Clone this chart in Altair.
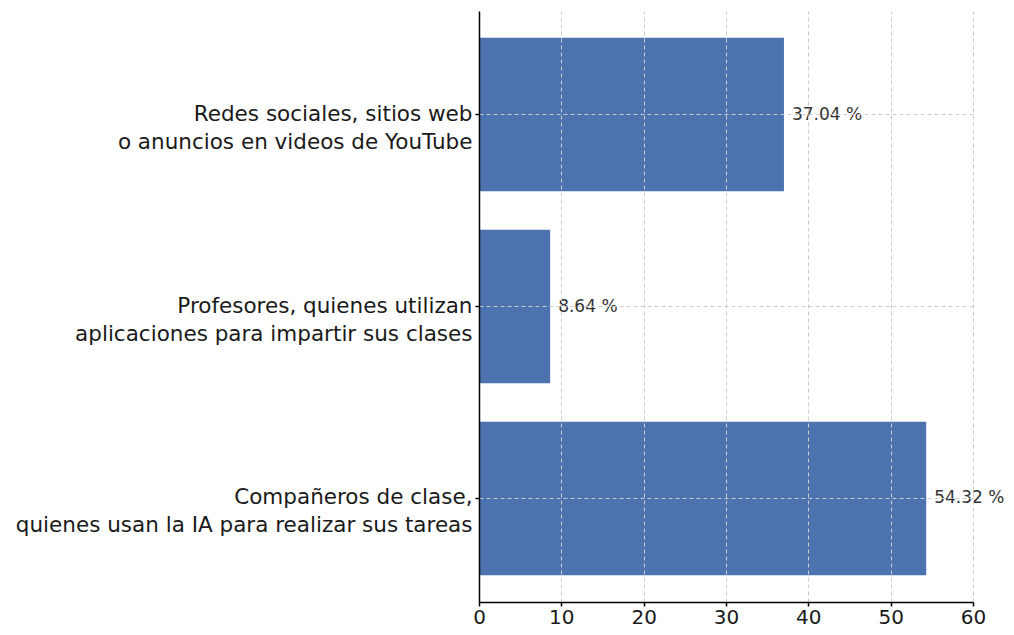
import altair as alt
import pandas as pd

categories = [
    "Redes sociales, sitios web|o anuncios en videos de YouTube",
    "Profesores, quienes utilizan|aplicaciones para impartir sus clases",
    "Compañeros de clase,|quienes usan la IA para realizar sus tareas",
]
values = [37.04, 8.64, 54.32]
labels = [f"{v:.2f} %" for v in values]

df = pd.DataFrame({"cat": categories, "value": values, "label": labels})

FONT = "DejaVu Sans"

y_enc = alt.Y(
    "cat:N",
    sort=categories,
    title=None,
    scale=alt.Scale(paddingInner=0.2, paddingOuter=0.14),
    axis=alt.Axis(
        bandPosition=0.5,
        grid=True,
        gridDash=[4, 3],
        gridColor="#cccccc",
        gridWidth=1,
        labelExpr="split(datum.label, '|')",
        labelFontSize=21.5,
        labelLineHeight=28,
        labelFont=FONT,
        labelColor="#1a1a1a",
        labelLimit=0,
        labelPadding=3,
        tickSize=4,
        tickColor="#000000",
        tickWidth=1.5,
        domainColor="#000000",
        domainWidth=1.5,
        zindex=1,
    ),
)

x_enc = alt.X(
    "value:Q",
    title=None,
    scale=alt.Scale(domain=[0, 60], nice=False),
    axis=alt.Axis(
        values=[0, 10, 20, 30, 40, 50, 60],
        grid=True,
        gridDash=[4, 3],
        gridColor="#cccccc",
        gridWidth=1,
        labelFontSize=20,
        labelFont=FONT,
        labelColor="#1a1a1a",
        labelPadding=1,
        labelFlush=False,
        tickSize=4,
        tickColor="#000000",
        tickWidth=1.5,
        domainColor="#000000",
        domainWidth=1.5,
        zindex=1,
    ),
)

bars = alt.Chart(df).mark_bar(color="#4C72B0").encode(x=x_enc, y=y_enc)

text = alt.Chart(df).mark_text(
    align="left", baseline="middle", dx=8, fontSize=17, font=FONT, color="#333333"
).encode(x="value:Q", y=alt.Y("cat:N", sort=categories), text="label:N")

chart = (
    alt.layer(bars, text)
    .properties(
        width=494,
        height=591,
        autosize=alt.AutoSizeParams(type="none"),
        padding={"left": 471, "top": 3, "right": 33, "bottom": 25},
    )
    .configure_view(stroke=None)
)

chart.save("out.html", embed_options={"renderer": "svg", "actions": False})
